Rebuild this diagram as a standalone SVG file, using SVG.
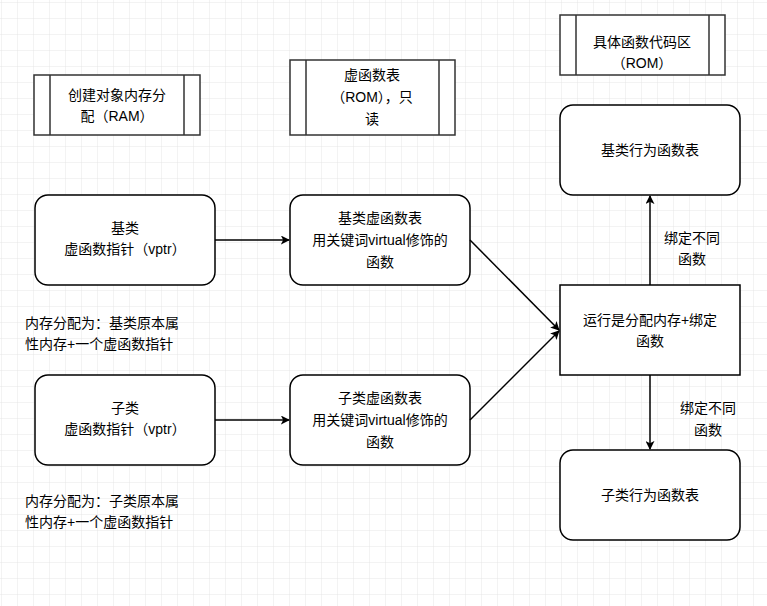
<svg xmlns="http://www.w3.org/2000/svg" width="767" height="606" viewBox="0 0 767 606">
<defs>
<pattern id="g" width="16" height="16" patternUnits="userSpaceOnUse" x="2" y="3"><path d="M16 0V16H0" fill="none" stroke="#e6e6e6" stroke-width="1"/></pattern>
<marker id="a" viewBox="0 0 10 10" refX="9" refY="5" markerWidth="9" markerHeight="9" orient="auto" markerUnits="userSpaceOnUse"><path d="M0 0L10 5L0 10L2.5 5Z" fill="#000"/></marker>
<style>
text{font-family:"Liberation Sans","Noto Sans CJK SC",sans-serif;font-size:14px;text-anchor:middle}
.b{fill:#fff;stroke:#000;stroke-width:1.5}
.p{fill:#fff;stroke:#333;stroke-width:1.5}
.c{stroke:#000;stroke-width:1.5;fill:none;marker-end:url(#a)}
.l{text-anchor:start}
</style>
</defs>
<rect width="767" height="606" fill="#fff"/>
<rect width="767" height="606" fill="url(#g)"/>
<g id="p1"><rect class="p" x="34" y="75" width="166" height="60"/><path class="p" d="M50 75V135M184 75V135"/><text x="117" y="100">创建对象内存分</text><text x="117" y="121">配（RAM）</text></g>
<g id="p2"><rect class="p" x="290" y="60" width="165" height="75"/><path class="p" d="M306 60V135M439 60V135"/><text x="372" y="80">虚函数表</text><text x="372" y="102">（ROM），只</text><text x="372" y="124">读</text></g>
<g id="p3"><rect class="p" x="560" y="15" width="165" height="60"/><path class="p" d="M576 15V75M709 15V75"/><text x="642" y="47">具体函数代码区</text><text x="642" y="68">（ROM）</text></g>
<g id="n1"><rect class="b" x="35" y="195" width="180" height="90" rx="13"/><text x="125" y="233">基类</text><text x="125" y="254">虚函数指针（vptr）</text></g>
<g id="n2"><rect class="b" x="290" y="195" width="180" height="90" rx="13"/><text x="380" y="223">基类虚函数表</text><text x="380" y="245">用关键词virtual修饰的</text><text x="380" y="267">函数</text></g>
<g id="n3"><rect class="b" x="35" y="375" width="180" height="90" rx="13"/><text x="125" y="413">子类</text><text x="125" y="434">虚函数指针（vptr）</text></g>
<g id="n4"><rect class="b" x="290" y="375" width="180" height="90" rx="13"/><text x="380" y="403">子类虚函数表</text><text x="380" y="425">用关键词virtual修饰的</text><text x="380" y="447">函数</text></g>
<g id="n5"><rect class="b" x="560" y="105" width="180" height="90" rx="13"/><text x="650" y="155">基类行为函数表</text></g>
<g id="n6"><rect class="b" x="560" y="285" width="180" height="90" rx="0"/><text x="650" y="325">运行是分配内存+绑定</text><text x="650" y="346">函数</text></g>
<g id="n7"><rect class="b" x="560" y="450" width="180" height="90" rx="13"/><text x="650" y="500">子类行为函数表</text></g>
<g id="t1"><text class="l" x="25" y="328">内存分配为：基类原本属</text><text class="l" x="25" y="349">性内存+一个虚函数指针</text></g>
<g id="t2"><text class="l" x="25" y="506">内存分配为：子类原本属</text><text class="l" x="25" y="527">性内存+一个虚函数指针</text></g>
<g id="edges">
<path class="c" d="M215 240H289"/>
<path class="c" d="M215 420H289"/>
<path class="c" d="M470 240L559 330"/>
<path class="c" d="M470 420L559 331"/>
<path class="c" d="M650 285V196"/>
<path class="c" d="M650 375V449"/>
<text x="692" y="243">绑定不同</text><text x="692" y="264">函数</text>
<text x="708" y="413">绑定不同</text><text x="708" y="435">函数</text>
</g>
</svg>
